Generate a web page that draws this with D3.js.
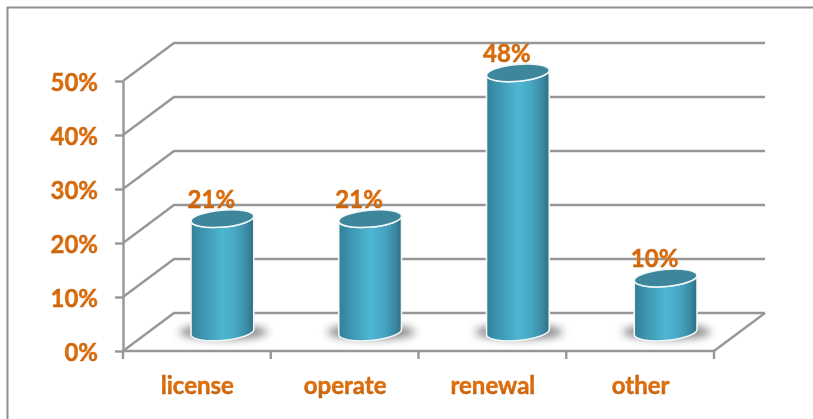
<!DOCTYPE html>
<html>
<head>
<meta charset="utf-8">
<script src="https://cdn.jsdelivr.net/npm/d3@7"></script>
<style>
  html, body { margin: 0; padding: 0; background: #fff; }
  svg { display: block; }
  text { font-family: Lato, "Open Sans", sans-serif; font-weight: 700; }
</style>
</head>
<body>
<svg id="chart" width="813" height="419"></svg>
<script>
const categories = ["license", "operate", "renewal", "other"];
const shares = [21, 21, 48, 10];
const shareTicks = [0, 10, 20, 30, 40, 50];

const width = 813, height = 419;
const axisColor = "#979797";
const depth = { x: 51, y: -38 };   // shift from the front plane to the back wall
const cylinder = { rx: 31.5, ry: 8.5, tilt: -5, shiftX: 25.5, baseLift: 19 };
const labelSize = 24;

const svg = d3.select("#chart").attr("viewBox", [0, 0, width, height]);
const x = d3.scaleBand().domain(categories).range([123, 714]);
const y = d3.scaleLinear().domain([0, 50]).range([351, 81]);

const defs = svg.append("defs");
const sideFill = defs.append("linearGradient").attr("id", "cylinderSide");
[[0, "#327f97"], [0.14, "#3b90aa"], [0.5, "#4db6d2"], [0.72, "#46a6c2"], [0.9, "#3a88a1"], [1, "#2e6c7f"]]
  .forEach(([o, c]) => sideFill.append("stop").attr("offset", o).attr("stop-color", c));
const textFill = defs.append("linearGradient").attr("id", "labelFill").attr("x2", 0).attr("y2", 1);
[[0, "#bf5e0d"], [0.5, "#e0700f"], [1, "#bd5d0c"]]
  .forEach(([o, c]) => textFill.append("stop").attr("offset", o).attr("stop-color", c));
defs.append("filter").attr("id", "soft").attr("x", "-30%").attr("y", "-60%").attr("width", "160%").attr("height", "220%")
  .append("feGaussianBlur").attr("stdDeviation", 4);
defs.append("filter").attr("id", "textSoft").attr("x", "-10%").attr("y", "-10%").attr("width", "120%").attr("height", "120%")
  .append("feGaussianBlur").attr("stdDeviation", 0.35);

// Shared look for every chart label: slightly heavier than the font's bold
const styleLabel = sel => sel
  .attr("font-size", labelSize)
  .attr("fill", "url(#labelFill)")
  .attr("stroke", "url(#labelFill)").attr("stroke-width", 0.5)
  .attr("filter", "url(#textSoft)");

// Outer frame, open on the right and bottom
svg.append("path")
  .attr("d", `M7.5,${height}V7.5H${width}`)
  .attr("fill", "none").attr("stroke", "#8f8f8f").attr("stroke-width", 2);

// Side wall and back wall gridlines
const [x0, x1] = x.range();
const grid = svg.append("g").attr("fill", "none").attr("stroke", axisColor).attr("stroke-width", 2.4);
grid.selectAll("path").data(shareTicks).join("path")
  .attr("d", t => d3.line()([
    [x0, y(t)],
    [x0 + depth.x, y(t) + depth.y],
    [x1 + depth.x, y(t) + depth.y]
  ]));

// Floor edge on the right
grid.append("path").attr("d", d3.line()([
  [x1, y(0)],
  [x1 + depth.x, y(0) + depth.y]
]));

// Value axis
const yAxis = svg.append("g").attr("transform", `translate(${x0},0)`)
  .call(d3.axisLeft(y).tickValues(shareTicks).tickSize(8).tickSizeOuter(0).tickFormat(d => d + "%"));
yAxis.select(".domain").attr("stroke", axisColor).attr("stroke-width", 2.4);
yAxis.selectAll(".tick line").attr("stroke", axisColor).attr("stroke-width", 2.4);
yAxis.selectAll(".tick text")
  .attr("x", -25).attr("dy", "0.40em")
  .call(styleLabel);

// Category axis, ticks on the band edges
const xAxis = svg.append("g").attr("transform", `translate(0,${y(0)})`);
xAxis.append("line").attr("x1", x0).attr("x2", x1)
  .attr("stroke", axisColor).attr("stroke-width", 2.4);
const bandEdges = categories.map(c => x(c)).concat(x1);
xAxis.selectAll(".edge").data(bandEdges).join("line").attr("class", "edge")
  .attr("x1", d => d).attr("x2", d => d).attr("y1", 0).attr("y2", 8)
  .attr("stroke", axisColor).attr("stroke-width", 2.4);
xAxis.selectAll(".cat").data(categories).join("text").attr("class", "cat")
  .attr("x", c => x(c) + x.bandwidth() / 2 + 0.5).attr("y", 43)
  .attr("text-anchor", "middle")
  .call(styleLabel)
  .text(c => c);

// Cylinders
const rad = cylinder.tilt * Math.PI / 180;
const edgeX = cylinder.rx * Math.cos(rad), edgeY = cylinder.rx * Math.sin(rad);
const cx = c => x(c) + x.bandwidth() / 2 + cylinder.shiftX;
const baseY = y(0) - cylinder.baseLift;

const bars = svg.append("g").selectAll("g")
  .data(categories.map((c, i) => ({ c, v: shares[i] })))
  .join("g");

bars.append("ellipse")
  .attr("cx", d => cx(d.c) + 1).attr("cy", baseY)
  .attr("rx", 44).attr("ry", 7)
  .attr("fill", "#5e5e5e").attr("opacity", 0.8).attr("filter", "url(#soft)");

bars.append("path")
  .attr("d", d => {
    const top = baseY - (y(0) - y(d.v)), c = cx(d.c);
    return `M${c - edgeX},${top - edgeY}L${c - edgeX},${baseY - edgeY}` +
      `A${cylinder.rx},${cylinder.ry} ${cylinder.tilt} 0 0 ${c + edgeX},${baseY + edgeY}` +
      `L${c + edgeX},${top + edgeY}` +
      `A${cylinder.rx},${cylinder.ry} ${cylinder.tilt} 0 1 ${c - edgeX},${top - edgeY}Z`;
  })
  .attr("fill", "url(#cylinderSide)").attr("stroke", "#f2f7f8").attr("stroke-width", 1.6);

bars.append("ellipse")
  .attr("cx", 0).attr("cy", 0)
  .attr("rx", cylinder.rx).attr("ry", cylinder.ry)
  .attr("transform", d => `translate(${cx(d.c)},${baseY - (y(0) - y(d.v))}) rotate(${cylinder.tilt})`)
  .attr("fill", "#3d869c").attr("stroke", "#f2f7f8").attr("stroke-width", 1.6);

bars.append("text")
  .attr("x", d => cx(d.c) - 11).attr("y", d => baseY - (y(0) - y(d.v)) - 11)
  .attr("text-anchor", "middle")
  .call(styleLabel)
  .text(d => d.v + "%");
</script>
</body>
</html>
